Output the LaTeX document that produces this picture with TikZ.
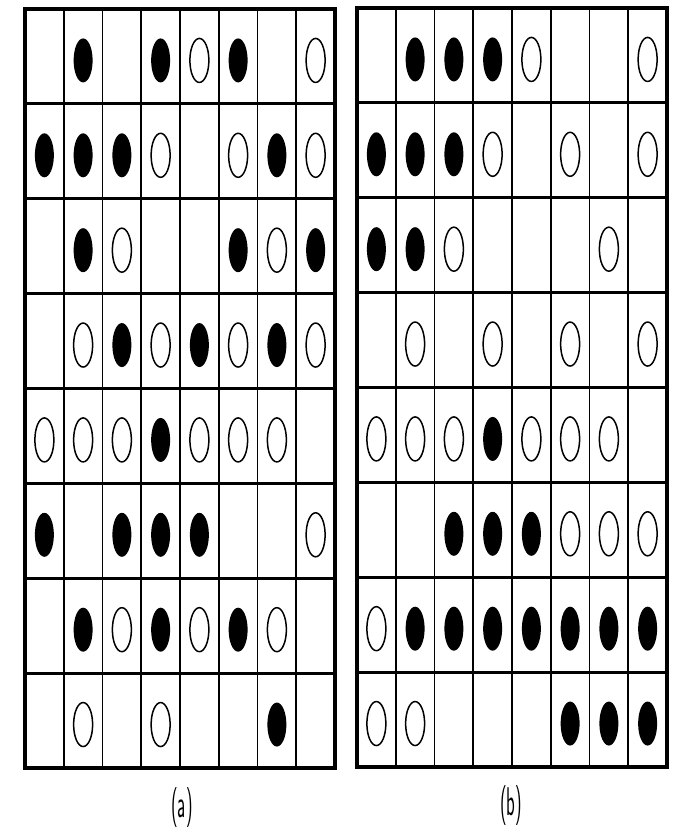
\documentclass[tikz,border=0pt]{standalone}
\usepackage{tikz}
\usetikzlibrary{shapes.geometric}
\tikzset{
  cell rule/.style={black, line width=1.8pt},
  row rule/.style={black, line width=3pt},
  frame rule/.style={black, line width=3.2pt},
  bead/.style={
      ellipse,
      inner sep=0pt,
      minimum width=19pt,
      minimum height=44pt
    },
  full bead/.style={bead, fill=black},
  empty bead/.style={bead, draw=black, line width=1.5pt, fill=white},
  panel label/.style={
      inner sep=0pt,
      font=\sffamily\fontsize{40}{40}\selectfont
    }
}

\begin{document}
\begin{tikzpicture}[x=1pt, y=1pt]

  \useasboundingbox (0,0) rectangle (679,834);

  % ------------------------------------------------------------------
  % Panel (a): 8 x 8 cells, 1 = filled bead, 2 = open bead.
  % ------------------------------------------------------------------
  \begin{scope}[shift={(25,66)}]
    \foreach \i in {1,...,7}
      \draw[cell rule] (\i*38.75,0) -- (\i*38.75,759);
    \foreach \j in {1,...,7}
      \draw[row rule] (0,\j*94.875) -- (310,\j*94.875);
    \draw[frame rule] (0,0) rectangle (310,759);

    \foreach \r/\cells in {
        1/{0,1,0,1,2,1,0,2},
        2/{1,1,1,2,0,2,1,2},
        3/{0,1,2,0,0,1,2,1},
        4/{0,2,1,2,1,2,1,2},
        5/{2,2,2,1,2,2,2,0},
        6/{1,0,1,1,1,0,0,2},
        7/{0,1,2,1,2,1,2,0},
        8/{0,2,0,2,0,0,1,0}}
      \foreach \v [count=\c] in \cells {
        \ifnum\v=1
          \node[full bead] (a-\r-\c)
          at ({(\c-0.5)*38.75},{759-(\r-0.5)*94.875-4}) {};
        \fi
        \ifnum\v=2
          \node[empty bead] (a-\r-\c)
          at ({(\c-0.5)*38.75},{759-(\r-0.5)*94.875-4}) {};
        \fi
      };
  \end{scope}

  \node[panel label] (label-a) at (182,26) {\scalebox{0.45}[1]{(a)}};

  % ------------------------------------------------------------------
  % Panel (b): same layout, different bead pattern.
  % ------------------------------------------------------------------
  \begin{scope}[shift={(357,67)}]
    \foreach \i in {1,...,7}
      \draw[cell rule] (\i*38.75,0) -- (\i*38.75,759);
    \foreach \j in {1,...,7}
      \draw[row rule] (0,\j*94.875) -- (310,\j*94.875);
    \draw[frame rule] (0,0) rectangle (310,759);

    \foreach \r/\cells in {
        1/{0,1,1,1,2,0,0,2},
        2/{1,1,1,2,0,2,0,2},
        3/{1,1,2,0,0,0,2,0},
        4/{0,2,0,2,0,2,0,2},
        5/{2,2,2,1,2,2,2,0},
        6/{0,0,1,1,1,2,2,2},
        7/{2,1,1,1,1,1,1,1},
        8/{2,2,0,0,0,1,1,1}}
      \foreach \v [count=\c] in \cells {
        \ifnum\v=1
          \node[full bead] (b-\r-\c)
          at ({(\c-0.5)*38.75},{759-(\r-0.5)*94.875-4}) {};
        \fi
        \ifnum\v=2
          \node[empty bead] (b-\r-\c)
          at ({(\c-0.5)*38.75},{759-(\r-0.5)*94.875-4}) {};
        \fi
      };
  \end{scope}

  \node[panel label] (label-b) at (511,28) {\scalebox{0.45}[1]{(b)}};

\end{tikzpicture}
\end{document}
